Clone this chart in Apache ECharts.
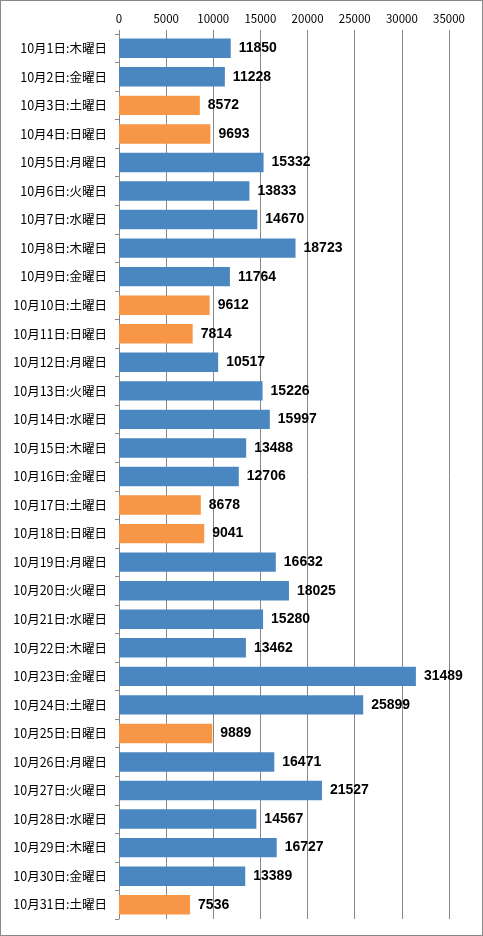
<!DOCTYPE html>
<html><head><meta charset="utf-8">
<script src="https://cdn.jsdelivr.net/npm/echarts@6/dist/echarts.min.js"></script>
<style>html,body{margin:0;padding:0;background:#fff}#c{width:483px;height:936px;box-sizing:border-box;border:1px solid #888}</style>
</head><body><div id="c"></div>
<script>
const categories = ["10月1日:木曜日","10月2日:金曜日","10月3日:土曜日","10月4日:日曜日","10月5日:月曜日","10月6日:火曜日","10月7日:水曜日","10月8日:木曜日","10月9日:金曜日","10月10日:土曜日","10月11日:日曜日","10月12日:月曜日","10月13日:火曜日","10月14日:水曜日","10月15日:木曜日","10月16日:金曜日","10月17日:土曜日","10月18日:日曜日","10月19日:月曜日","10月20日:火曜日","10月21日:水曜日","10月22日:木曜日","10月23日:金曜日","10月24日:土曜日","10月25日:日曜日","10月26日:月曜日","10月27日:火曜日","10月28日:水曜日","10月29日:木曜日","10月30日:金曜日","10月31日:土曜日"];
const values = [11850,11228,8572,9693,15332,13833,14670,18723,11764,9612,7814,10517,15226,15997,13488,12706,8678,9041,16632,18025,15280,13462,31489,25899,9889,16471,21527,14567,16727,13389,7536];
const holiday = [0,0,1,1,0,0,0,0,0,1,1,0,0,0,0,0,1,1,0,0,0,0,0,0,1,0,0,0,0,0,1];
const xTicks = [0,5000,10000,15000,20000,25000,30000,35000];
const BLUE = '#4A86C0', ORANGE = '#F79646';
const chart = echarts.init(document.getElementById('c'), null, {renderer:'canvas'});
chart.setOption({
  animation:false,
  grid:{left:118,right:33,top:33,bottom:16,containLabel:false},
  xAxis:{type:'value',position:'top',min:xTicks[0],max:xTicks[xTicks.length-1],interval:5000,
    axisLine:{show:false},
    axisTick:{show:true,length:4,lineStyle:{color:'#888'}},
    axisLabel:{fontSize:11.5,color:'#000',margin:10,formatter:v=>String(v),fontFamily:'"Noto Sans CJK JP", sans-serif'},
    splitLine:{show:true,lineStyle:{color:'#888',width:1}}},
  yAxis:{type:'category',inverse:true,data:categories,
    axisLine:{show:true,lineStyle:{color:'#888'}},
    axisTick:{show:true,length:4,inside:false,lineStyle:{color:'#888'}},
    axisLabel:{fontSize:12.5,color:'#000',margin:12,fontFamily:'"Noto Sans CJK JP", sans-serif'}},
  series:[{type:'bar',barWidth:'68%',
    data: values.map((v,i)=>({value:v,itemStyle:{color: holiday[i]?ORANGE:BLUE}})),
    label:{show:true,position:'right',distance:8,fontSize:14,fontWeight:'bold',color:'#000',fontFamily:'"Liberation Sans", sans-serif'}
  }]
});
</script></body></html>
